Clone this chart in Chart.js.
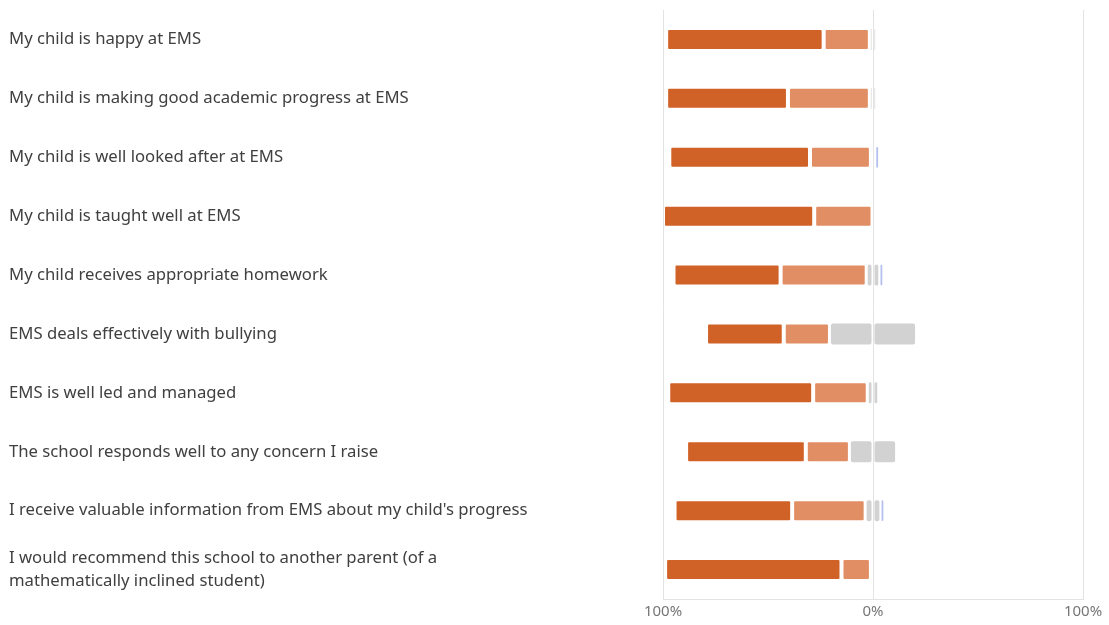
<!DOCTYPE html>
<html>
<head>
<meta charset="utf-8">
<script src="https://cdn.jsdelivr.net/npm/chart.js@4"></script>
<style>
  html, body { margin: 0; padding: 0; background: #fff; }
  #wrap { width: 1109px; height: 625px; position: relative; }
</style>
</head>
<body>
<div id="wrap"><canvas id="c"></canvas></div>
<script>
const categories = [
  "My child is happy at EMS",
  "My child is making good academic progress at EMS",
  "My child is well looked after at EMS",
  "My child is taught well at EMS",
  "My child receives appropriate homework",
  "EMS deals effectively with bullying",
  "EMS is well led and managed",
  "The school responds well to any concern I raise",
  "I receive valuable information from EMS about my child's progress",
  ["I would recommend this school to another parent (of a", "mathematically inclined student)"]
];
// percentages
const stronglyAgree    = [75, 58, 67, 72, 51, 37, 69, 57, 56, 84];
const agree            = [22, 39, 29, 28, 41, 22, 26, 21, 35, 14];
const neutral          = [ 3,  3,  2,  0,  6, 41,  5, 22,  7,  2];
const disagree         = [ 0,  0,  2,  0,  2,  0,  0,  0,  2,  0];
const stronglyDisagree = [ 0,  0,  0,  0,  0,  0,  0,  0,  0,  0];
const xTicks = [-100, 0, 100];

const neg = a => a.map(v => -v);
const half = a => a.map(v => v / 2);

const style = (bw) => ({
  borderColor: 'rgba(255,255,255,0)',
  borderWidth: bw,
  borderSkipped: false,
  borderRadius: {topLeft: 3, topRight: 3, bottomLeft: 3, bottomRight: 3},
  barThickness: 23,
  inflateAmount: 0
});

const FONT = "'Segoe UI', 'Noto Sans', sans-serif";

new Chart(document.getElementById('c'), {
  type: 'bar',
  data: {
    labels: categories,
    datasets: [
      Object.assign({label: 'Neutral L', data: neg(half(neutral)), backgroundColor: '#D2D2D2'}, style(1)),
      Object.assign({label: 'Agree', data: neg(agree), backgroundColor: '#E18E64'}, style(2)),
      Object.assign({label: 'Strongly agree', data: neg(stronglyAgree), backgroundColor: '#D16227'}, style(2)),
      Object.assign({label: 'Neutral R', data: half(neutral), backgroundColor: '#D2D2D2'}, style(1)),
      Object.assign({label: 'Disagree', data: disagree, backgroundColor: '#B4C0F0'}, style(1.2)),
      Object.assign({label: 'Strongly disagree', data: stronglyDisagree, backgroundColor: '#8595DD'}, style(1.2))
    ]
  },
  options: {
    indexAxis: 'y',
    responsive: true,
    maintainAspectRatio: false,
    animation: false,
    layout: { padding: { left: 9, top: 10, right: 26, bottom: 0 } },
    plugins: { legend: { display: false }, tooltip: { enabled: false } },
    scales: {
      x: {
        stacked: true,
        min: -100, max: 100,
        afterBuildTicks: s => { s.ticks = xTicks.map(v => ({value: v})); },
        grid: { color: '#E3E3E3', drawTicks: false, lineWidth: 1 },
        border: { display: true, color: '#E3E3E3' },
        ticks: {
          padding: 4,
          color: '#767676',
          font: { family: FONT, size: 15 },
          callback: v => Math.abs(v) + '%'
        }
      },
      y: {
        stacked: true,
        grid: { display: false },
        border: { display: false },
        afterFit: s => { s.width = 654; s.paddingTop = 0; s.paddingBottom = 0; },
        ticks: {
          crossAlign: 'far',
          color: '#404040',
          font: { family: FONT, size: 16.7, lineHeight: 1.4 }
        }
      }
    }
  }
});
</script>
</body>
</html>
